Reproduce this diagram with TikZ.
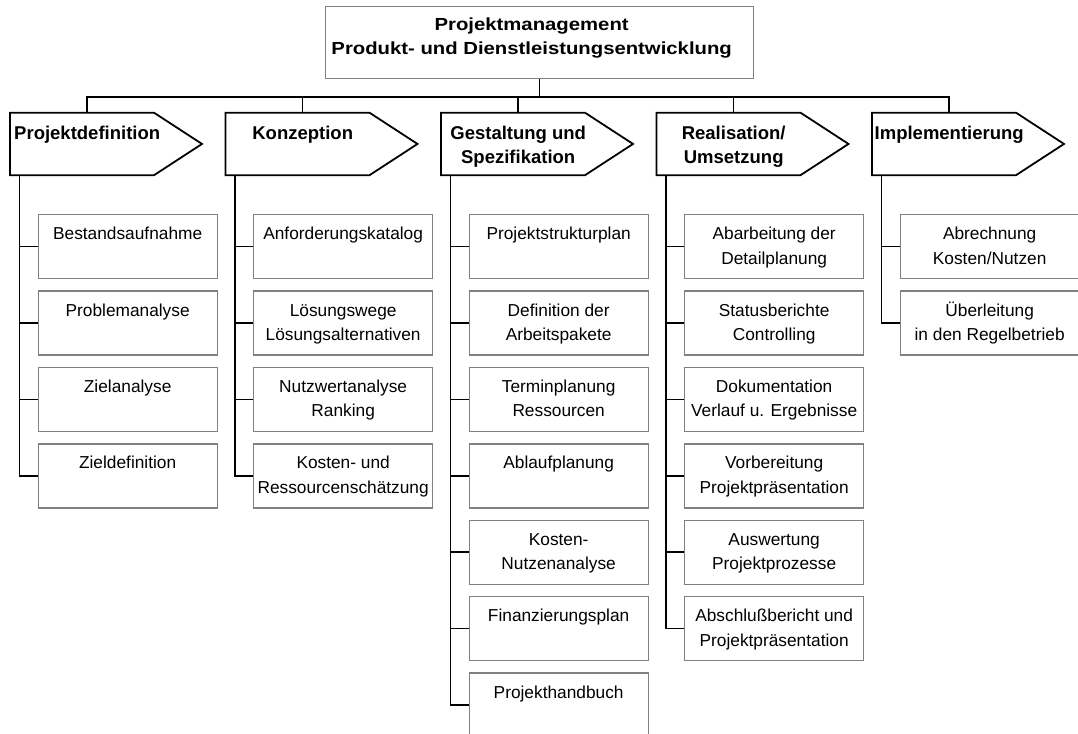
\documentclass[tikz,border=0pt]{standalone}
\usepackage{fontspec}
\setmainfont{Liberation Sans}
\newfontfamily\titlefont[FakeStretch=1.16]{Liberation Sans}
\usepackage{xcolor}
\usepackage{tikz}
\usetikzlibrary{calc}
\definecolor{boxgray}{RGB}{128,128,128}
\newcommand{\itemtext}[1]{\parbox[t][64pt][t]{179pt}{\centering\rule{0pt}{25pt}#1}}
\newcommand{\phasetext}[1]{\parbox[t][62.5pt][t]{154pt}{\centering\rule{0pt}{26.3pt}#1}}

\begin{document}
\begin{tikzpicture}[x=1pt,y=-1pt,
  item/.style={draw=boxgray,line width=1.3pt,inner sep=0pt,anchor=north west,font=\fontsize{17.3}{24.5}\selectfont},
  phase/.style={inner sep=0pt,anchor=north west,font=\bfseries\fontsize{18.5}{24}\selectfont},
  conn/.style={line width=1.6pt}]
\useasboundingbox (0,0) rectangle (1078,733);

% Title box
\node[draw=boxgray,line width=1.3pt,inner sep=0pt,anchor=north west,font=\titlefont\bfseries\fontsize{17.5}{23.5}\selectfont] (pm) at (325,6)
  {\parbox[t][72pt][t]{412pt}{\centering\rule{0pt}{24pt}Projektmanagement\\Produkt- und Dienstleistungsentwicklung}\hspace*{16pt}};

% Phase arrows
\foreach \t [count=\i] in {Projektdefinition, Konzeption, {Gestaltung und\\Spezifikation}, {Realisation/\\Umsetzung}, Implementierung} {
  \node[phase] (ph\i) at ({10+215.5*(\i-1)},112.7) {\phasetext{\t}};
  \draw[line width=1.8pt] (ph\i.north west) -- ++(144,0) -- ++(48,31.25) -- ++(-48,31.25) -- ++(-144,0) -- cycle;
  \coordinate (t\i) at ($(ph\i.north west)+(77,0)$);
  \coordinate (s\i) at ($(ph\i.south west)+(9.5,0)$);
}

% Bus from title to phases
\draw[conn] (pm.south) -- ++(0,17.7) coordinate (bus);
\foreach \i in {1,...,5} \draw[conn] (t\i) |- (bus);

% Tasks per phase
\foreach \t [count=\j] in {Bestandsaufnahme, Problemanalyse, Zielanalyse, Zieldefinition}
  \node[item] (b1-\j) at (37.5,{137.6+76.4*\j}) {\itemtext{\t}};
\foreach \t [count=\j] in {Anforderungskatalog, {Lösungswege\\Lösungsalternativen}, {Nutzwertanalyse\\Ranking}, {Kosten- und\\Ressourcenschätzung}}
  \node[item] (b2-\j) at (253,{137.6+76.4*\j}) {\itemtext{\t}};
\foreach \t [count=\j] in {Projektstrukturplan, {Definition der\\Arbeitspakete}, {Terminplanung\\Ressourcen}, Ablaufplanung, {Kosten-\\Nutzenanalyse}, Finanzierungsplan, Projekthandbuch}
  \node[item] (b3-\j) at (468.5,{137.6+76.4*\j}) {\itemtext{\t}};
\foreach \t [count=\j] in {{Abarbeitung der\\Detailplanung}, {Statusberichte\\Controlling}, {Dokumentation\\Verlauf u. Ergebnisse}, {Vorbereitung\\Projektpräsentation}, {Auswertung\\Projektprozesse}, {Abschlußbericht und\\Projektpräsentation}}
  \node[item] (b4-\j) at (684,{137.6+76.4*\j}) {\itemtext{\t}};
\foreach \t [count=\j] in {{Abrechnung\\Kosten/Nutzen}, {Überleitung\\in den Regelbetrieb}}
  \node[item] (b5-\j) at (899.5,{137.6+76.4*\j}) {\itemtext{\t}};

% Connectors to tasks
\foreach \j in {1,...,4} \draw[conn] (s1) |- (b1-\j.west);
\foreach \j in {1,...,4} \draw[conn] (s2) |- (b2-\j.west);
\foreach \j in {1,...,7} \draw[conn] (s3) |- (b3-\j.west);
\foreach \j in {1,...,6} \draw[conn] (s4) |- (b4-\j.west);
\foreach \j in {1,2} \draw[conn] (s5) |- (b5-\j.west);
\end{tikzpicture}
\end{document}
